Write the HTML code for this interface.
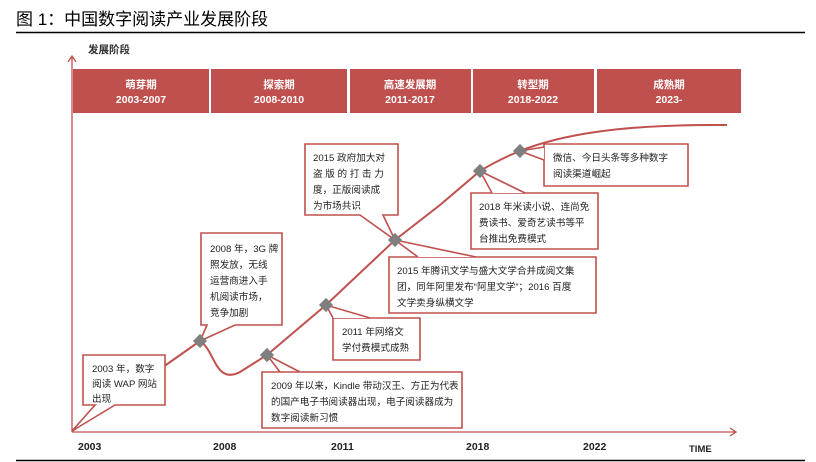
<!DOCTYPE html>
<html><head><meta charset="utf-8"><style>
html,body{margin:0;padding:0;background:#fff;}
svg{display:block;font-family:"Liberation Sans","Noto Sans CJK SC",sans-serif;}
</style></head><body>
<svg width="816" height="462" viewBox="0 0 816 462" xmlns="http://www.w3.org/2000/svg">
<text x="16" y="25" font-size="17" fill="#000">图 1：中国数字阅读产业发展阶段</text>
<line x1="16" y1="32.5" x2="805" y2="32.5" stroke="#000" stroke-width="1.5"/>
<line x1="16" y1="460.5" x2="805" y2="460.5" stroke="#000" stroke-width="1.5"/>
<text x="88" y="53" font-size="10.5" font-weight="bold" fill="#333">发展阶段</text>
<g stroke="#c0504d" stroke-width="1.3" fill="none">
<line x1="72" y1="57" x2="72" y2="432"/>
<polyline points="68,62 72,56 76,62"/>
<line x1="72" y1="432" x2="736" y2="432"/>
<polyline points="730,428 736,432 730,436"/>
</g>
<g fill="#c0504d">
<rect x="73" y="69" width="136" height="44"/>
<rect x="211" y="69" width="136" height="44"/>
<rect x="350" y="69" width="121" height="44"/>
<rect x="473" y="69" width="121" height="44"/>
<rect x="597" y="69" width="144" height="44"/>
</g>
<g fill="#fff" font-size="10.5" font-weight="bold" text-anchor="middle">
<text x="141" y="88">萌芽期</text><text x="141" y="103">2003-2007</text>
<text x="279" y="88">探索期</text><text x="279" y="103">2008-2010</text>
<text x="410" y="88">高速发展期</text><text x="410" y="103">2011-2017</text>
<text x="533" y="88">转型期</text><text x="533" y="103">2018-2022</text>
<text x="669" y="88">成熟期</text><text x="669" y="103">2023-</text>
</g>
<path d="M72,431 L200,341 C215,350 215,385 240,372 L267,355 L326,305 L395,240 L440,205 L480,171 C495,162 505,157 520,151 C560,135 620,124 727,125" stroke="#c0504d" stroke-width="2" fill="none"/>
<g fill="#fff" stroke="#c0504d" stroke-width="1.6">
<path d="M83,355 H165 V405 H115 L72,431 L95,405 H83 Z"/>
<path d="M201,233 H282 V325 H235 L200,341 L207,325 H201 Z"/>
<path d="M262,372 H462 V428 H262 Z M262,372 H280 L267,355 L300,372"/>
<path d="M333,318 H420 V360 H333 Z"/>
<path d="M333,318 L326,305 L370,318"/>
<path d="M305,144 H398 V215 H383 L395,240 L360,215 H305 Z"/>
<path d="M389,257 H596 V313 H389 Z"/>
<path d="M418,257 L395,240 L476,257"/>
<path d="M471,193 H598 V249 H471 Z"/>
<path d="M492,193 L480,171 L525,193"/>
<path d="M544,144 H688 V186 H544 Z"/>
<path d="M544,147 L520,151 L544,160"/>
</g>
<g fill="#ffffff" stroke="none">
<rect x="264" y="373" width="18" height="3"/><rect x="334" y="319" width="30" height="3"/>
<rect x="390" y="258" width="80" height="3"/><rect x="472" y="194" width="50" height="3"/>
<rect x="545" y="148" width="3" height="11"/>
</g>
<g fill="#7f7f7f">
<rect x="195" y="336" width="10" height="10" transform="rotate(45 200 341)"/>
<rect x="262" y="350" width="10" height="10" transform="rotate(45 267 355)"/>
<rect x="321" y="300" width="10" height="10" transform="rotate(45 326 305)"/>
<rect x="390" y="235" width="10" height="10" transform="rotate(45 395 240)"/>
<rect x="475" y="166" width="10" height="10" transform="rotate(45 480 171)"/>
<rect x="515" y="146" width="10" height="10" transform="rotate(45 520 151)"/>
</g>
<g font-size="9.6" fill="#222">
<text x="92" y="372">2003 年，数字</text><text x="92" y="387">阅读 WAP 网站</text><text x="92" y="402">出现</text>
<text x="210" y="252">2008 年，3G 牌</text><text x="210" y="268">照发放，无线</text><text x="210" y="284">运营商进入手</text><text x="210" y="300">机阅读市场，</text><text x="210" y="316">竞争加剧</text>
<text x="271" y="389">2009 年以来，Kindle 带动汉王、方正为代表</text><text x="271" y="405">的国产电子书阅读器出现，电子阅读器成为</text><text x="271" y="421">数字阅读新习惯</text>
<text x="342" y="335">2011 年网络文</text><text x="342" y="351">学付费模式成熟</text>
<text x="313" y="161">2015 政府加大对</text><text x="313" y="177">盗 版 的 打 击 力</text><text x="313" y="193">度，正版阅读成</text><text x="313" y="209">为市场共识</text>
<text x="397" y="274">2015 年腾讯文学与盛大文学合并成阅文集</text><text x="397" y="290">团，同年阿里发布“阿里文学”；2016 百度</text><text x="397" y="306">文学卖身纵横文学</text>
<text x="479" y="210">2018 年米读小说、连尚免</text><text x="479" y="226">费读书、爱奇艺读书等平</text><text x="479" y="242">台推出免费模式</text>
<text x="553" y="161">微信、今日头条等多种数字</text><text x="553" y="177">阅读渠道崛起</text>
</g>
<g font-size="10.5" font-weight="bold" fill="#222">
<text x="78" y="450">2003</text><text x="213" y="450">2008</text><text x="331" y="450">2011</text><text x="466" y="450">2018</text><text x="583" y="450">2022</text><text x="689" y="452" font-size="9.5">TIME</text>
</g>
</svg>
</body></html>
